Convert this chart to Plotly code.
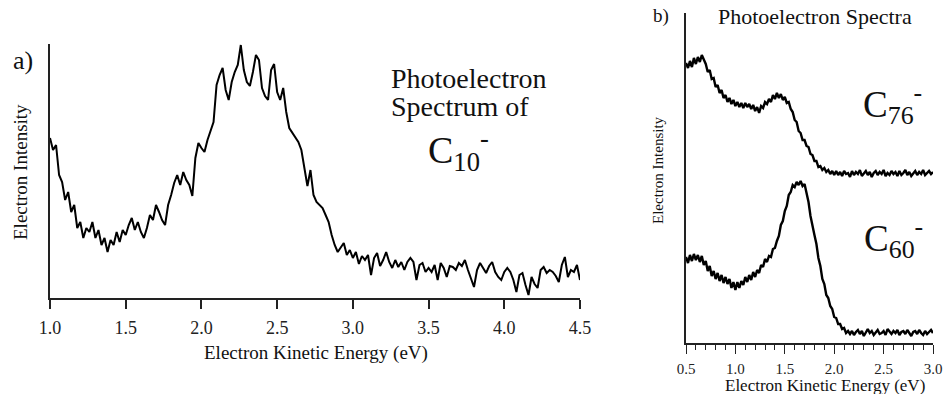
import numpy as np
import plotly.graph_objects as go

# ---------------- data ----------------
# Panel a) C10- photoelectron spectrum, energy grid 1.00 .. 4.50 eV step 0.02
c10_energy_start, c10_energy_step = 1.00, 0.02
c10_intensity = [
    160, 148, 153, 123, 116, 98, 106, 86, 93, 70,
    76, 60, 70, 66, 76, 60, 68, 53, 60, 46,
    58, 53, 66, 56, 68, 63, 73, 80, 68, 76,
    66, 60, 70, 83, 78, 93, 86, 78, 73, 93,
    103, 115, 123, 113, 126, 118, 113, 102, 140, 155,
    150, 146, 158, 166, 176, 213, 223, 230, 208, 198,
    216, 226, 233, 253, 228, 216, 212, 226, 243, 238,
    210, 202, 198, 228, 234, 206, 198, 210, 186, 170,
    165, 160, 156, 148, 130, 112, 128, 103, 96, 93,
    90, 83, 76, 63, 53, 46, 50, 55, 43, 48,
    40, 46, 34, 42, 38, 43, 23, 40, 45, 32,
    38, 46, 36, 30, 38, 31, 36, 28, 36, 40,
    36, 18, 33, 35, 26, 30, 26, 33, 18, 35,
    30, 21, 32, 31, 28, 35, 32, 38, 28, 20,
    11, 28, 35, 30, 25, 32, 36, 26, 21, 18,
    26, 30, 26, 18, 6, 23, 25, 13, 3, 21,
    14, 10, 28, 31, 25, 28, 26, 22, 16, 33,
    41, 21, 28, 26, 33, 18,
]

# Panel b) C76- and C60- spectra, energy grid 0.50 .. 3.00 eV step 0.02
c_b_energy_start, c_b_energy_step = 0.50, 0.02
c76_intensity = [
    280, 275, 282, 276, 285, 279, 286, 281, 288, 283,
    279, 271, 273, 264, 265, 256, 258, 250, 253, 245,
    248, 241, 245, 239, 243, 237, 241, 236, 240, 235,
    240, 236, 239, 234, 238, 232, 236, 230, 237, 235,
    241, 239, 244, 241, 248, 244, 250, 245, 249, 243,
    246, 240, 241, 234, 231, 223, 221, 212, 210, 203,
    203, 197, 196, 189, 188, 182, 182, 176, 177, 173,
    175, 171, 173, 169, 172, 168,
    172, 168, 171, 167, 172, 169, 170, 166, 172, 168,
    171, 169, 173, 167, 170, 172, 168, 171, 166, 170,
    172, 168, 171, 169, 173, 167, 170, 168, 172, 169,
    171, 167, 172, 168, 170, 173, 168, 171, 167, 170,
    172, 168, 171, 169, 173, 168, 170, 172, 169, 171,
]
c60_intensity = [
    86, 80, 88, 82, 89, 83, 88, 81, 87, 78,
    82, 72, 77, 67, 72, 64, 70, 62, 68, 60,
    66, 59, 64, 55, 61, 53, 61, 55, 62, 58,
    66, 61, 68, 63, 71, 66, 73, 70, 78, 76,
    84, 81, 87, 86, 94, 95, 102, 107, 118, 122,
    132, 137, 148, 151, 158, 156, 161, 158, 162, 157,
    159, 149, 141, 127, 119, 108, 99, 85, 77, 64,
    59, 48, 45, 37, 34, 26, 25, 19, 19, 14,
    15, 10, 12, 9,
    12, 8, 11, 13, 9, 12, 7, 11, 14, 10,
    12, 8, 11, 13, 9, 10, 12, 8, 14, 11,
    9, 12, 10, 13, 8, 11, 12, 9, 13, 10,
    7, 11, 12, 9, 13, 10, 8, 12, 9, 11,
    13, 10,
]

a_ticks = [1.0, 1.5, 2.0, 2.5, 3.0, 3.5, 4.0, 4.5]
a_ticklabels = ["1.0", "1.5", "2.0", "2.5", "3.0", "3.5", "4.0", "4.5"]
b_ticks = [0.5, 1.0, 1.5, 2.0, 2.5, 3.0]
b_ticklabels = ["0.5", "1.0", "1.5", "2.0", "2.5", "3.0"]

c10_energy = np.round(c10_energy_start + c10_energy_step * np.arange(len(c10_intensity)), 3)
b_energy = np.round(c_b_energy_start + c_b_energy_step * np.arange(len(c76_intensity)), 3)

# ---------------- layout helpers ----------------
W, H = 943, 394
def px(x):
    return x / W
def py(y):
    return 1 - y / H

SERIF = "Liberation Serif"
AX = "#222222"

fig = go.Figure()
fig.add_trace(go.Scatter(x=c10_energy, y=c10_intensity, mode="lines",
                         line=dict(color="black", width=2.0), xaxis="x", yaxis="y",
                         showlegend=False, hoverinfo="skip"))
fig.add_trace(go.Scatter(x=b_energy, y=c76_intensity, mode="lines",
                         line=dict(color="black", width=2.4), xaxis="x2", yaxis="y2",
                         showlegend=False, hoverinfo="skip"))
fig.add_trace(go.Scatter(x=b_energy, y=c60_intensity, mode="lines",
                         line=dict(color="black", width=2.4), xaxis="x2", yaxis="y2",
                         showlegend=False, hoverinfo="skip"))

fig.update_layout(
    width=W, height=H, margin=dict(l=0, r=0, t=0, b=0),
    paper_bgcolor="white", plot_bgcolor="white",
    template="none",
    xaxis=dict(domain=[px(50), px(580)], range=[1.0, 4.5], anchor="y",
               tickvals=a_ticks, ticktext=a_ticklabels,
               ticks="outside", ticklen=9, tickwidth=1.5, tickcolor=AX,
               showline=True, linewidth=1.5, linecolor=AX,
               showgrid=False, zeroline=False, ticklabelstandoff=4,
               tickfont=dict(family=SERIF, size=18, color="#222")),
    yaxis=dict(domain=[py(298), py(44)], range=[0, 254], anchor="x",
               showline=True, linewidth=1.5, linecolor=AX,
               showticklabels=False, ticks="", showgrid=False, zeroline=False),
    xaxis2=dict(domain=[px(686), px(933)], range=[0.5, 3.0], anchor="y2",
                tickvals=b_ticks, ticktext=b_ticklabels,
                ticks="outside", ticklen=9, tickwidth=1.3, tickcolor=AX,
                minor=dict(dtick=0.1, tick0=0.5, ticks="outside", ticklen=5,
                           tickwidth=1.2, tickcolor=AX, showgrid=False),
                showline=True, linewidth=1.5, linecolor=AX,
                showgrid=False, zeroline=False, ticklabelstandoff=2,
                tickfont=dict(family=SERIF, size=15, color="#222")),
    yaxis2=dict(domain=[py(343), py(13)], range=[0, 330], anchor="x2",
                showline=True, linewidth=1.5, linecolor=AX,
                showticklabels=False, ticks="", showgrid=False, zeroline=False),
)

def ann(text, x, y, size, xanchor="center", yanchor="middle", angle=0):
    fig.add_annotation(text=text, x=px(x), y=py(y), xref="paper", yref="paper",
                       showarrow=False, xanchor=xanchor, yanchor=yanchor,
                       textangle=angle,
                       font=dict(family=SERIF, size=size, color="#111"))

# panel a) texts
ann("a)", 11, 61, 26, xanchor="left")
ann("Electron Intensity", 20, 172, 19, angle=-90)
ann("Electron Kinetic Energy (eV)", 316, 353, 19)
ann("Photoelectron", 389, 78, 28, xanchor="left")
ann("Spectrum of", 389, 106, 28, xanchor="left")
ann("C<sub>10</sub><sup>-</sup>", 426, 150, 38, xanchor="left")

# panel b) texts
ann("b)", 651, 16, 19, xanchor="left")
ann("Photoelectron Spectra", 716, 17, 22, xanchor="left")
ann("Electron Intensity", 658, 170, 15, angle=-90)
ann("Electron Kinetic Energy (eV)", 825, 385, 17)
ann("C<sub>76</sub><sup>-</sup>", 861, 104, 37, xanchor="left")
ann("C<sub>60</sub><sup>-</sup>", 862, 238, 37, xanchor="left")

fig.write_html("out.html", config={"displayModeBar": False},
               post_script="document.body.style.margin='0';document.body.style.padding='0';")
